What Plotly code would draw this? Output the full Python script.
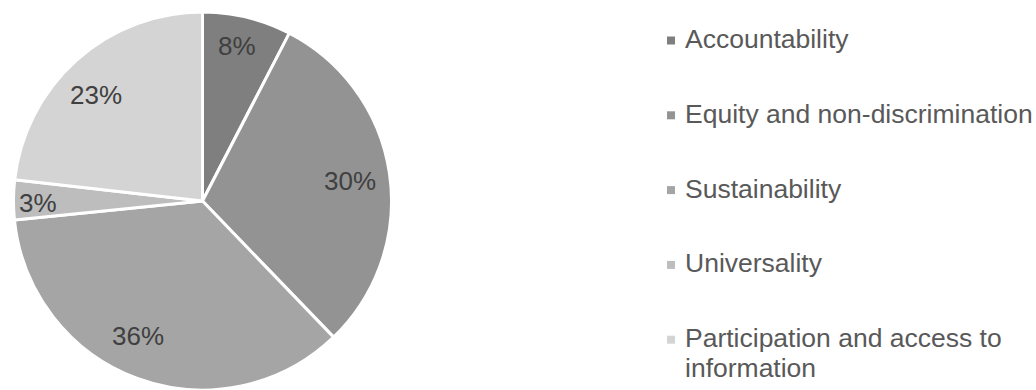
import math
import plotly.graph_objects as go

# Share of commitments by human-rights principle (percent)
categories = [
    "Accountability",
    "Equity and non-discrimination",
    "Sustainability",
    "Universality",
    "Participation and access to<br>information",
]
shares = [7.6, 30.2, 35.6, 3.4, 23.2]
slice_colors = ["#7f7f7f", "#939393", "#a5a5a5", "#bdbdbd", "#d4d4d4"]

W, H = 1036, 390
FONT = "Liberation Sans, Arial, sans-serif"

# Pie geometry in pixels
cx, cy, R = 202.5, 201, 189
# Label placement: fraction of radius and small angular nudge (degrees)
label_radius = [0.84, 0.79, 0.79, 0.87, 0.795]
label_nudge = [-1.0, 0.5, 5.5, -1.0, -3.5]


def paper(px, py):
    return px / W, 1 - py / H


fig = go.Figure(
    go.Pie(
        labels=categories,
        values=shares,
        sort=False,
        direction="clockwise",
        rotation=0,
        marker=dict(colors=slice_colors, line=dict(color="white", width=3)),
        textinfo="none",
        hoverinfo="label+percent",
        showlegend=False,
        domain=dict(x=[(cx - R) / W, (cx + R) / W], y=[0, 2 * R / H]),
    )
)

annotations = []
shapes = []

# Percentage labels placed along each slice's mid-angle
total = sum(shares)
cum = 0
for v, rf, nd in zip(shares, label_radius, label_nudge):
    mid = (cum + v / 2) / total * 2 * math.pi + math.radians(nd)
    cum += v
    px = cx + rf * R * math.sin(mid)
    py = cy - rf * R * math.cos(mid)
    x, y = paper(px, py)
    annotations.append(dict(
        x=x, y=y, xref="paper", yref="paper", showarrow=False,
        text=f"{round(v / total * 100)}%",
        font=dict(family=FONT, size=26, color="#404040"),
        xanchor="center", yanchor="middle",
    ))

# Legend drawn as square swatches with labels
leg_x, leg_y0, leg_step, sw, line_gap = 667, 40.5, 74.8, 8, 30
for i, (name, col) in enumerate(zip(categories, slice_colors)):
    yc = leg_y0 + i * leg_step
    x0, y0 = paper(leg_x, yc - sw / 2)
    x1, y1 = paper(leg_x + sw, yc + sw / 2)
    shapes.append(dict(type="rect", xref="paper", yref="paper",
                       x0=x0, x1=x1, y0=y1, y1=y0,
                       fillcolor=col, line=dict(width=0)))
    for j, line in enumerate(name.split("<br>")):
        tx, ty = paper(leg_x + 16, yc - 1.5 + j * line_gap)
        annotations.append(dict(
            x=tx, y=ty, xref="paper", yref="paper", showarrow=False,
            text=line, align="left",
            font=dict(family=FONT, size=26.5, color="#595959"),
            xanchor="left", yanchor="middle",
        ))

fig.update_layout(
    width=W, height=H,
    margin=dict(l=0, r=0, t=0, b=0),
    paper_bgcolor="white", plot_bgcolor="white",
    annotations=annotations, shapes=shapes,
)

fig.write_html("out.html")
